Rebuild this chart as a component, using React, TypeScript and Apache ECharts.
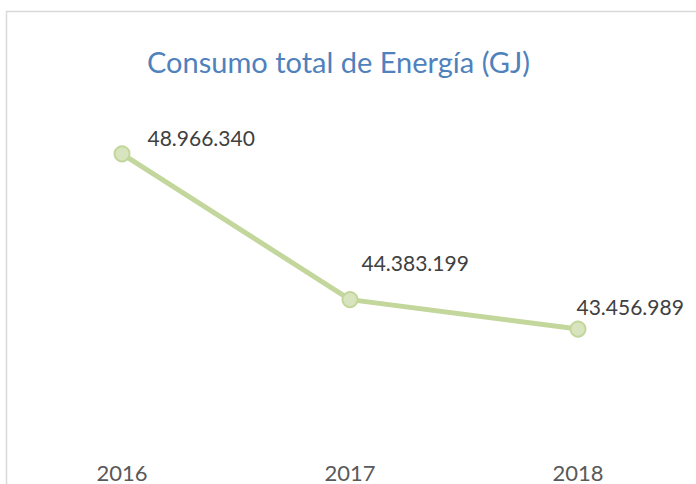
import React, { useEffect, useRef } from "react";
import * as echarts from "echarts";

const years = ["2016", "2017", "2018"];
const consumo = [48966340, 44383199, 43456989];
// label offsets relative to the default 'right' position, one per year
const labelOffsets: [number, number][] = [
  [17, -16],
  [3, -37],
  [-10, -23],
];

const fmt = (v: number) =>
  Math.round(v)
    .toString()
    .replace(/\B(?=(\d{3})+(?!\d))/g, ".");

export default function App() {
  const ref = useRef<HTMLDivElement>(null);

  useEffect(() => {
    if (!ref.current) return;
    const chart = echarts.init(ref.current, undefined, { renderer: "svg" });
    chart.setOption({
      animation: false,
      backgroundColor: "#ffffff",
      title: {
        text: "Consumo total de Energía (GJ)",
        left: 142,
        top: 42,
        textStyle: {
          fontFamily: "Lato",
          fontSize: 29,
          fontWeight: "normal",
          color: "#4F81BD",
        },
      },
      graphic: [
        {
          type: "rect",
          shape: { x: 6.5, y: 11.5, width: 800, height: 600 },
          style: { fill: "none", stroke: "#D9D9D9", lineWidth: 1.5 },
          silent: true,
        },
      ],
      grid: { left: 8, right: 4, top: 121, bottom: 45 },
      xAxis: {
        type: "category",
        data: years,
        boundaryGap: true,
        axisLine: { show: false },
        axisTick: { show: false },
        axisLabel: {
          margin: 22,
          fontFamily: "Lato",
          fontSize: 22,
          color: "#595959",
        },
      },
      yAxis: {
        type: "value",
        min: 40000000,
        max: 50000000,
        show: false,
        splitLine: { show: false },
      },
      series: [
        {
          type: "line",
          data: consumo.map((v, i) => ({
            value: v,
            label: { offset: labelOffsets[i] },
          })),
          symbol: "circle",
          symbolSize: 15,
          lineStyle: { color: "#C3D69B", width: 5 },
          itemStyle: { color: "#D7E4BD", borderColor: "#C3D69B", borderWidth: 2 },
          label: {
            show: true,
            position: "right",
            distance: 0,
            fontFamily: "Lato",
            fontSize: 21,
            color: "#404040",
            formatter: (p: any) => fmt(p.value),
          },
        },
      ],
    });
    return () => chart.dispose();
  }, []);

  return (
    <div
      ref={ref}
      style={{ position: "fixed", left: 0, top: 0, width: 696, height: 484 }}
    />
  );
}
